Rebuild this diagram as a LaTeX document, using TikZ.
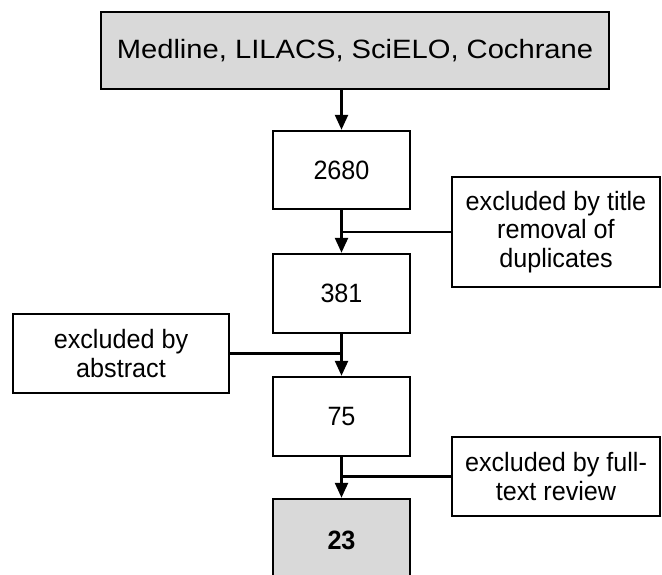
\documentclass[tikz,border=0pt]{standalone}
\usepackage{fontspec}
\setmainfont{Liberation Sans}[FakeStretch=0.95]
\newfontfamily\topfont{Liberation Sans}[FakeStretch=1.1]
\usetikzlibrary{arrows.meta}
\definecolor{boxgray}{RGB}{217,217,217}
\begin{document}
\begin{tikzpicture}[x=1pt,y=-1pt,
  box/.style={draw=black,line width=2.5pt,inner sep=0pt,align=center,
    font=\fontsize{26.5}{28.5}\selectfont},
  conn/.style={line width=2.5pt},
  arr/.style={line width=2.5pt,-{Triangle[width=13pt,length=15pt]}}]
\useasboundingbox (0,0) rectangle (662,574);
\begin{scope}
\clip (0,0) rectangle (662,574);
\node[box,fill=boxgray,minimum width=508pt,minimum height=77pt] (src) at (355,50.5)
  {\topfont\fontsize{26.5}{30}\selectfont Medline, LILACS, SciELO, Cochrane};
\node[box,minimum width=137pt,minimum height=78pt] (n1) at (341.5,170) {2680};
\node[box,minimum width=137pt,minimum height=79pt] (n2) at (341.5,293.5) {381};
\node[box,minimum width=137pt,minimum height=79pt] (n3) at (341.5,416.5) {75};
\node[box,fill=boxgray,minimum width=137pt,minimum height=82pt] (n4) at (341.5,540) {\bfseries 23};
\node[box,minimum width=208pt,minimum height=110pt] (e1) at (556,232) {excluded by title\\removal of\\duplicates};
\node[box,minimum width=216pt,minimum height=79pt] (e2) at (121,353.5) {excluded by\\abstract};
\node[box,minimum width=208pt,minimum height=79pt] (e3) at (556,476.5) {excluded by full-\\text review};
\draw[arr] (src.south -| n1.north) -- (n1.north);
\draw[arr] (n1.south) -- (n2.north);
\draw[arr] (n2.south) -- (n3.north);
\draw[arr] (n3.south) -- (n4.north);
\draw[conn] (e1.west) -- (e1.west -| n1.south);
\draw[conn] (e2.east) -- (e2.east -| n2.south);
\draw[conn] (e3.west) -- (e3.west -| n3.south);
\end{scope}
\end{tikzpicture}
\end{document}
